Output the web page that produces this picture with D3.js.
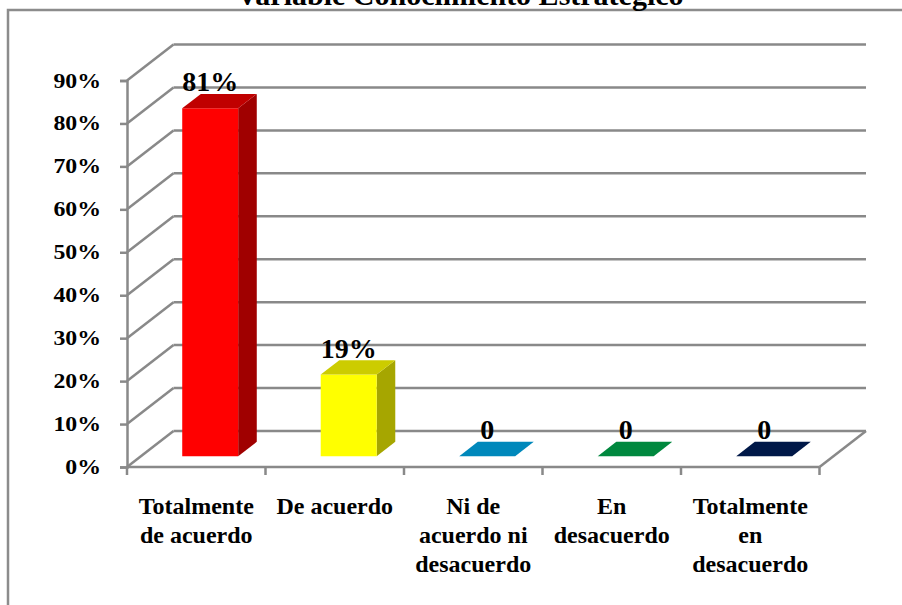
<!DOCTYPE html>
<html>
<head>
<meta charset="utf-8">
<script src="https://cdn.jsdelivr.net/npm/d3@7"></script>
<style>
  html, body { margin: 0; padding: 0; background: #fff; }
  svg { display: block; }
  text { font-family: "Liberation Serif", "Times New Roman", Times, serif; font-weight: bold; fill: #000; }
</style>
</head>
<body>
<svg id="chart" width="902" height="605"></svg>
<script>
// ---- data ----
const title = "Variable Conocimiento Estratégico";
const categories = ["Totalmente de acuerdo", "De acuerdo", "Ni de acuerdo ni desacuerdo", "En desacuerdo", "Totalmente en desacuerdo"];
const categoryLines = [["Totalmente", "de acuerdo"], ["De acuerdo"], ["Ni de", "acuerdo ni", "desacuerdo"], ["En", "desacuerdo"], ["Totalmente", "en", "desacuerdo"]];
const values = [0.81, 0.19, 0, 0, 0];
const valueLabels = ["81%", "19%", "0", "0", "0"];
const tickValues = [0, 0.1, 0.2, 0.3, 0.4, 0.5, 0.6, 0.7, 0.8, 0.9];
const tickLabels = ["0%", "10%", "20%", "30%", "40%", "50%", "60%", "70%", "80%", "90%"];

// ---- styles ----
const palette = [
  { front: "#FF0000", top: "#C00000", side: "#A00000" },
  { front: "#FFFF00", top: "#CCCC00", side: "#A6A600" },
  { front: "#0088BB", top: "#0088BB", side: "#006A92" },
  { front: "#00883E", top: "#00883E", side: "#006A30" },
  { front: "#001848", top: "#001848", side: "#001035" }
];
const gridColor = "#898989";

const svg = d3.select("#chart");

// frame
svg.append("rect").attr("x", 8).attr("y", 10).attr("width", 910).attr("height", 620)
  .attr("fill", "none").attr("stroke", "#8c8c8c").attr("stroke-width", 2.5);

// title (cut off at the top edge, as in the reference)
svg.append("text").attr("x", 460).attr("y", 5).attr("text-anchor", "middle")
  .style("font-size", "30px").text(title);

// ---- 3D geometry ----
const DX = 46.5, DY = 36;           // depth offsets
const x = d3.scaleBand().domain(categories).range([127, 819.5]).paddingInner(0).paddingOuter(0);
const y = d3.scaleLinear().domain([0, 0.9]).range([467, 80.5]);
const P = (px, v, z) => [px + z * DX, y(v) - z * DY];
const z0 = 0.3, z1 = 0.7, barFrac = 0.404;

const g = svg.append("g");

// back wall gridlines
g.selectAll("line.grid").data(tickValues).enter().append("line")
  .attr("x1", d => P(x.range()[0], d, 1)[0]).attr("y1", d => P(x.range()[0], d, 1)[1])
  .attr("x2", d => P(x.range()[1], d, 1)[0]).attr("y2", d => P(x.range()[1], d, 1)[1])
  .attr("stroke", gridColor).attr("stroke-width", 2.5);

// side wall diagonals
g.selectAll("line.side").data(tickValues).enter().append("line")
  .attr("x1", d => P(x.range()[0], d, 0)[0]).attr("y1", d => P(x.range()[0], d, 0)[1])
  .attr("x2", d => P(x.range()[0], d, 1)[0]).attr("y2", d => P(x.range()[0], d, 1)[1])
  .attr("stroke", gridColor).attr("stroke-width", 2.5);

// floor right edge
g.append("line")
  .attr("x1", P(x.range()[1], 0, 0)[0]).attr("y1", P(x.range()[1], 0, 0)[1])
  .attr("x2", P(x.range()[1], 0, 1)[0]).attr("y2", P(x.range()[1], 0, 1)[1])
  .attr("stroke", gridColor).attr("stroke-width", 2.5);

// vertical axis (front)
const yAxis = d3.axisLeft(y).tickValues(tickValues).tickSize(7).tickFormat("");
const ya = g.append("g").attr("transform", `translate(${x.range()[0]},0)`).call(yAxis);
ya.select(".domain").attr("stroke", gridColor).attr("stroke-width", 2.5);
ya.selectAll(".tick line").attr("stroke", gridColor).attr("stroke-width", 2.5);

// y tick labels (slightly wide)
g.selectAll("text.ytick").data(tickValues).enter().append("text")
  .attr("transform", d => `translate(101,${y(d) + 7}) scale(1.19,1)`)
  .attr("text-anchor", "end").style("font-size", "20px")
  .text((d, i) => tickLabels[i]);

// horizontal axis (front floor edge) with ticks at band boundaries
const bounds = categories.map(c => x(c)).concat([x.range()[1]]);
g.append("line").attr("x1", x.range()[0]).attr("x2", x.range()[1])
  .attr("y1", y(0)).attr("y2", y(0)).attr("stroke", gridColor).attr("stroke-width", 2.5);
g.selectAll("line.xtick").data(bounds).enter().append("line")
  .attr("x1", d => d).attr("x2", d => d).attr("y1", y(0)).attr("y2", y(0) + 8)
  .attr("stroke", gridColor).attr("stroke-width", 2.5);

// bars
const bw = x.bandwidth() * barFrac;
const bars = g.selectAll("g.bar").data(values).enter().append("g");
bars.each(function (v, i) {
  const gb = d3.select(this);
  const cx = x(categories[i]) + x.bandwidth() / 2;
  const xl = cx - bw / 2, xr = cx + bw / 2;
  const c = palette[i];
  const pts = a => a.map(p => p.join(",")).join(" ");
  if (v > 0) {
    gb.append("polygon").attr("points", pts([P(xr, 0, z0), P(xr, 0, z1), P(xr, v, z1), P(xr, v, z0)]))
      .attr("fill", c.side);
    gb.append("polygon").attr("points", pts([P(xl, 0, z0), P(xr, 0, z0), P(xr, v, z0), P(xl, v, z0)]))
      .attr("fill", c.front);
  }
  gb.append("polygon").attr("points", pts([P(xl, v, z0), P(xr, v, z0), P(xr, v, z1), P(xl, v, z1)]))
    .attr("fill", c.top);
  const lp = P(cx, v, z0);
  gb.append("text").attr("x", lp[0]).attr("y", lp[1] - 17).attr("text-anchor", "middle")
    .style("font-size", "28px").text(valueLabels[i]);
});

// category labels
g.selectAll("text.cat").data(categories).enter().append("text")
  .attr("text-anchor", "middle").style("font-size", "24px")
  .each(function (c, i) {
    const t = d3.select(this);
    const cx = x(c) + x.bandwidth() / 2;
    categoryLines[i].forEach((ln, k) => {
      t.append("tspan").attr("x", cx).attr("y", 514 + k * 29).text(ln);
    });
  });
</script>
</body>
</html>
